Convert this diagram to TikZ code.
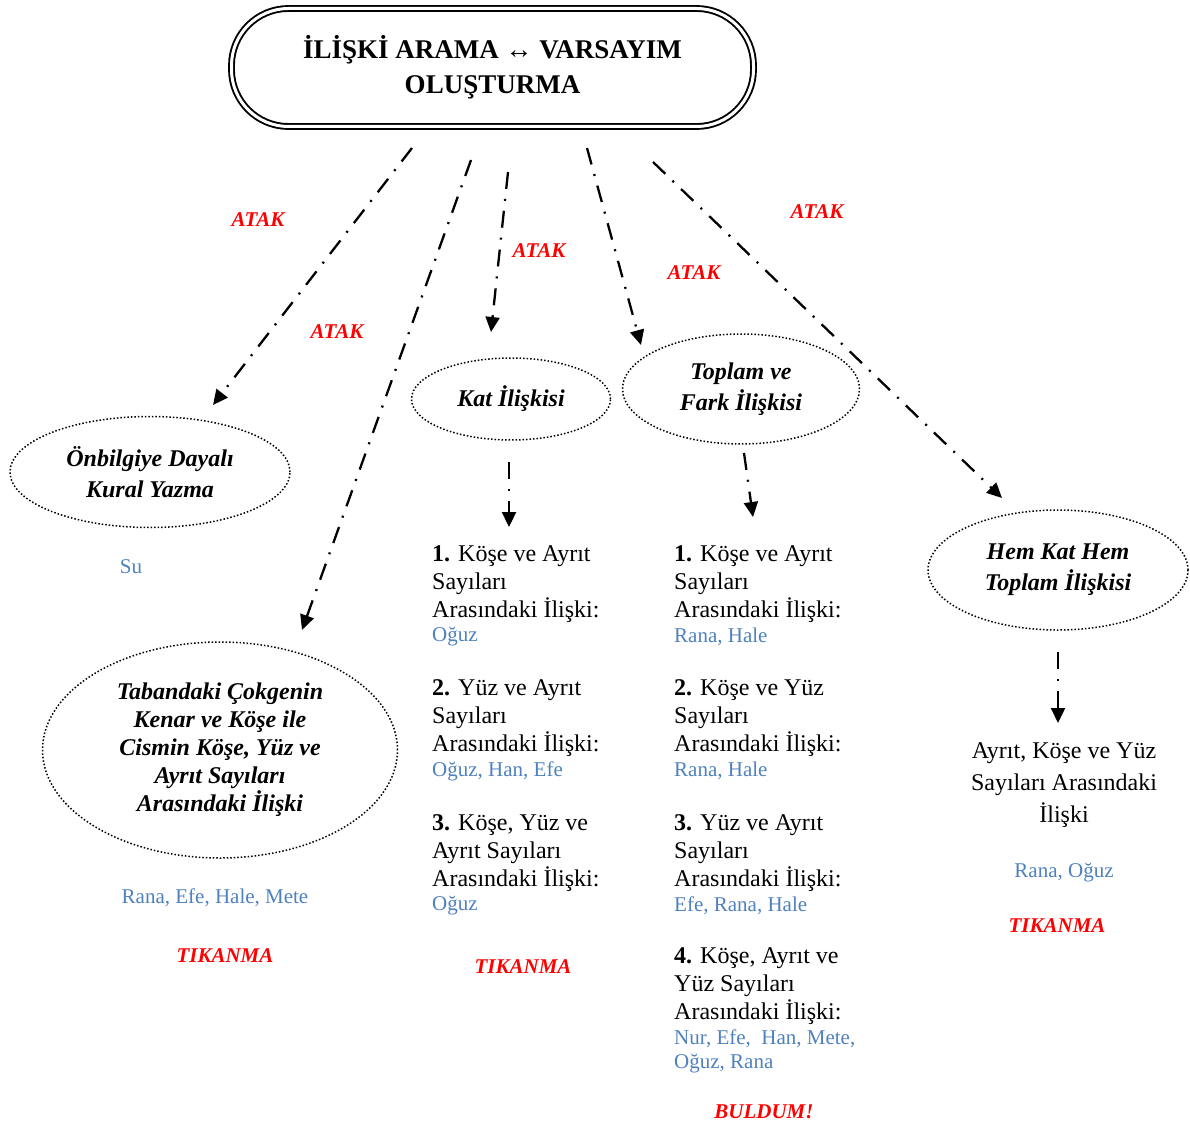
\documentclass[tikz,border=0pt]{standalone}
\usepackage{fontspec}
\setmainfont{Liberation Serif}
\usetikzlibrary{shapes.geometric, arrows.meta, positioning}
\definecolor{isimmavi}{RGB}{79,129,189}
\tikzset{
  kok/.style = {rectangle, rounded corners=57pt, draw=black, double, double distance=3pt,
    line width=1.9pt, minimum width=522pt, minimum height=118pt, align=center,
    inner sep=0pt, font=\fontsize{27}{35}\selectfont\bfseries},
  dal/.style = {ellipse, draw=black, dotted, line width=1.5pt, align=center,
    inner sep=0pt, font=\fontsize{24}{31}\selectfont\bfseries\itshape},
  atk/.style = {-{Triangle[length=15pt, width=14pt]}, line width=2.3pt,
    dash pattern=on 17pt off 10pt on 2pt off 10pt},
  etk/.style = {text=red, inner sep=0pt, anchor=base,
    font=\fontsize{21}{25}\selectfont\bfseries\itshape},
  adim/.style = {align=left, inner sep=0pt, anchor=north west,
    font=\fontsize{24}{28}\selectfont},
  isim/.style = {text=isimmavi, inner sep=0pt, align=left,
    font=\fontsize{21}{24}\selectfont}
}
\newcommand{\adimno}[1]{\textbf{#1.}}

\begin{document}
\begin{tikzpicture}[x=1pt, y=-1pt]
  \useasboundingbox (0,0) rectangle (1190,1126);
  % ana baslik
  \node [kok] (kok) at (492.5,67.5) {İLİŞKİ ARAMA ↔ VARSAYIM\\OLUŞTURMA};
  % dallar
  \node [dal, minimum width=280pt, minimum height=111pt] (onb) at (150,472)
    {Önbilgiye Dayalı\\Kural Yazma};
  \node [dal, minimum width=355pt, minimum height=216pt,
    font=\fontsize{24}{28}\selectfont\bfseries\itshape] (tab) at (220,750)
    {Tabandaki Çokgenin\\Kenar ve Köşe ile\\Cismin Köşe, Yüz ve\\Ayrıt Sayıları\\Arasındaki İlişki};
  \node [dal, minimum width=199pt, minimum height=82pt] (kat) at (511,399) {Kat İlişkisi};
  \node [dal, minimum width=237pt, minimum height=110pt] (top) at (741,389)
    {Toplam ve\\Fark İlişkisi};
  \node [dal, minimum width=260pt, minimum height=120pt] (hem) at (1058,570)
    {Hem Kat Hem\\Toplam İlişkisi};
  % oklar
  \coordinate (a1s) at (412,148);  \coordinate (a1e) at (213,405);
  \coordinate (a2s) at (471,160);  \coordinate (a2e) at (302,630);
  \coordinate (a3s) at (508,172);  \coordinate (a3e) at (491,332);
  \coordinate (a4s) at (587,148);  \coordinate (a4e) at (641,345);
  \coordinate (a5s) at (653,162);  \coordinate (a5e) at (1002,498);
  \coordinate (b1s) at (509,462);  \coordinate (b1e) at (509,527);
  \coordinate (b2s) at (744,453);  \coordinate (b2e) at (753,517);
  \coordinate (b3s) at (1058,652); \coordinate (b3e) at (1058,723);
  \draw [atk] (a1s) -- (a1e);
  \draw [atk] (a2s) -- (a2e);
  \draw [atk] (a3s) -- (a3e);
  \draw [atk] (a4s) -- (a4e);
  \draw [atk] (a5s) -- (a5e);
  \draw [atk] (b1s) -- (b1e);
  \draw [atk] (b2s) -- (b2e);
  \draw [atk] (b3s) -- (b3e);
  \node [etk] (atk1) at (258,226) {ATAK};
  \node [etk] (atk2) at (337,338) {ATAK};
  \node [etk] (atk3) at (539,257) {ATAK};
  \node [etk] (atk4) at (694,279) {ATAK};
  \node [etk] (atk5) at (817,218) {ATAK};
  % onbilgi ve taban
  \node [isim, anchor=base] (su) at (131,573) {Su};
  \node [isim, anchor=base] (tabi) at (215,903) {Rana, Efe, Hale, Mete};
  \node [etk] (tik1) at (225,962) {TIKANMA};
  % kat iliskisi
  \node [adim] (k1) at (432,545) {\adimno{1} Köşe ve Ayrıt\\Sayıları\\Arasındaki İlişki:};
  \node [isim, below=5pt of k1.south west, anchor=north west] (k1i) {Oğuz};
  \node [adim] (k2) at (432,679) {\adimno{2} Yüz ve Ayrıt\\Sayıları\\Arasındaki İlişki:};
  \node [isim, below=5pt of k2.south west, anchor=north west] (k2i) {Oğuz, Han, Efe};
  \node [adim] (k3) at (432,814) {\adimno{3} Köşe, Yüz ve\\Ayrıt Sayıları\\Arasındaki İlişki:};
  \node [isim, below=5pt of k3.south west, anchor=north west] (k3i) {Oğuz};
  \node [etk] (tik2) at (523,973) {TIKANMA};
  % toplam ve fark
  \node [adim] (t1) at (674,545) {\adimno{1} Köşe ve Ayrıt\\Sayıları\\Arasındaki İlişki:};
  \node [isim, below=5pt of t1.south west, anchor=north west] (t1i) {Rana, Hale};
  \node [adim] (t2) at (674,679) {\adimno{2} Köşe ve Yüz\\Sayıları\\Arasındaki İlişki:};
  \node [isim, below=5pt of t2.south west, anchor=north west] (t2i) {Rana, Hale};
  \node [adim] (t3) at (674,814) {\adimno{3} Yüz ve Ayrıt\\Sayıları\\Arasındaki İlişki:};
  \node [isim, below=5pt of t3.south west, anchor=north west] (t3i) {Efe, Rana, Hale};
  \node [adim] (t4) at (674,947) {\adimno{4} Köşe, Ayrıt ve\\Yüz Sayıları\\Arasındaki İlişki:};
  \node [isim, below=5pt of t4.south west, anchor=north west] (t4i)
    {Nur, Efe,\ \ Han, Mete,\\Oğuz, Rana};
  \node [etk] (bul) at (764,1118) {BULDUM!};
  % hem kat hem toplam
  \node [align=center, inner sep=0pt, anchor=north, font=\fontsize{24}{32}\selectfont]
    (hemm) at (1064,742) {Ayrıt, Köşe ve Yüz\\Sayıları Arasındaki\\İlişki};
  \node [isim, anchor=base] (hemi) at (1064,877) {Rana, Oğuz};
  \node [etk] (tik3) at (1057,932) {TIKANMA};
\end{tikzpicture}
\end{document}
